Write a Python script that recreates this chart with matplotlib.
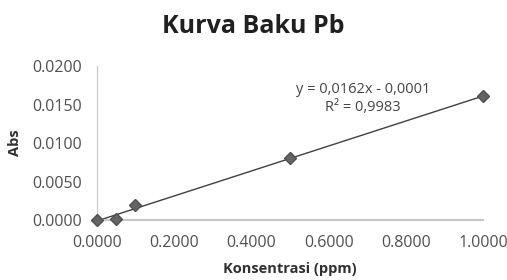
import numpy as np
import matplotlib.pyplot as plt

# data
konsentrasi = [0.0, 0.05, 0.1, 0.5, 1.0]
absorbansi = [0.0000, 0.0002, 0.0019, 0.0080, 0.0161]
xticks = [0.0, 0.2, 0.4, 0.6, 0.8, 1.0]
yticks = [0.0, 0.005, 0.010, 0.015, 0.020]

plt.rcParams['font.family'] = ['Open Sans', 'DejaVu Sans']

fig = plt.figure(figsize=(5.07, 2.8), dpi=100)
ax = fig.add_axes([0.191, 0.214, 0.762, 0.55])

# linear trendline
m, c = np.polyfit(konsentrasi, absorbansi, 1)
xs = np.array([0.0, 1.0])
ax.plot(xs, m * xs + c, color='#404040', lw=1.0, zorder=2)
ax.plot(konsentrasi, absorbansi, linestyle='none', marker='D', markersize=6.5,
        color='#646464', markeredgecolor='#505050', zorder=3, clip_on=False)

ax.set_xlim(0, 1.0)
ax.set_ylim(0, 0.02)
ax.set_xticks(xticks)
ax.set_yticks(yticks)
ax.set_xticklabels(['%.4f' % v for v in xticks])
ax.set_yticklabels(['%.4f' % v for v in yticks])
ax.tick_params(length=0, labelsize=11.5, labelcolor='#505050')
ax.tick_params(axis='y', pad=11)
ax.tick_params(axis='x', pad=11)

for s in ['top', 'right']:
    ax.spines[s].set_visible(False)
ax.spines['left'].set_color('#c8c8c8')
ax.spines['bottom'].set_color('#c8c8c8')
ax.spines['bottom'].set_linewidth(1.5)

ax.set_xlabel('Konsentrasi (ppm)', fontsize=10.5, fontweight='bold', color='#303030', labelpad=8)
ax.set_ylabel('Abs', fontsize=10.5, fontweight='bold', color='#303030', labelpad=7)

ax.text(0.689, 0.0170, 'y = 0,0162x - 0,0001', fontsize=10.5, color='#454545',
        ha='center', va='center')
ax.text(0.689, 0.0146, 'R² = 0,9983', fontsize=10.5, color='#454545',
        ha='center', va='center')

fig.text(0.5, 0.905, 'Kurva Baku Pb', ha='center', va='center', fontsize=18,
         fontweight='bold', color='#202020')

fig.savefig('out.png', dpi=100)
